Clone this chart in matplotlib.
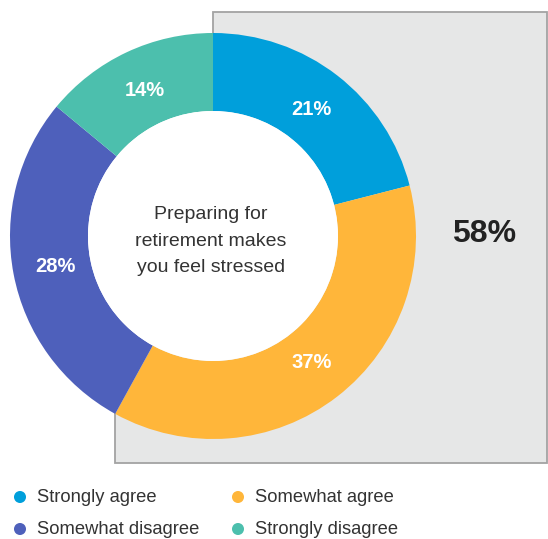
import numpy as np
import matplotlib.pyplot as plt
from matplotlib.patches import Polygon, Circle

plt.rcParams['font.family'] = ['Liberation Sans', 'DejaVu Sans']

# survey answers, share of respondents in percent
categories = ['Strongly agree', 'Somewhat agree', 'Somewhat disagree', 'Strongly disagree']
shares = [21, 37, 28, 14]
colors = ['#009FDB', '#FFB63A', '#4E60BB', '#4CBFAD']
question = 'Preparing for\nretirement makes\nyou feel stressed'

agree_total = shares[0] + shares[1]

W, H = 548, 539
fig = plt.figure(figsize=(W / 100, H / 100), dpi=100)
ax = fig.add_axes([0, 0, 1, 1])

# donut geometry in pixel units (y measured from bottom)
cx, cy = 213, H - 236
R = 203
r_in = 125

# grey panel behind the "agree" part of the ring
box_top, box_bottom, box_right = H - 12, H - 463, W - 1
end_ang = np.deg2rad(90 - agree_total / 100 * 360)
ex, ey = cx + R * np.cos(end_ang), cy + R * np.sin(end_ang)
panel = Polygon([(cx, cy), (cx, box_top), (box_right, box_top), (box_right, box_bottom),
                 (ex, box_bottom), (ex, ey)], closed=True, facecolor='#E6E7E7',
                edgecolor='none', zorder=1)
ax.add_patch(panel)
ax.plot([cx, cx, box_right, box_right, ex, ex],
        [cy + R, box_top, box_top, box_bottom, box_bottom, ey],
        color='#A3A3A3', lw=1.3, zorder=1.5, solid_joinstyle='miter')

wedges, _, pcts = ax.pie(shares, colors=colors, startangle=90, counterclock=False,
                         center=(cx, cy), radius=R, autopct='%.0f%%', pctdistance=0.79,
                         wedgeprops=dict(width=R - r_in, edgecolor='none', zorder=2),
                         textprops=dict(color='white', fontsize=14.5, fontweight='bold'))
for t in pcts:
    t.set_zorder(3)
ax.add_patch(Circle((cx, cy), r_in, facecolor='white', edgecolor='none', zorder=2))

ax.text(cx - 2, cy - 5, question, ha='center', va='center', fontsize=14,
        color='#333333', linespacing=1.75, zorder=3)
ax.text(484, H - 234, f'{agree_total}%', ha='center', va='center', fontsize=23,
        fontweight='bold', color='#222222', zorder=3)

# legend, two columns
leg_x = [20, 238]
leg_y = [H - 497, H - 529]
for i, (name, c) in enumerate(zip(categories, colors)):
    x, y = leg_x[i % 2], leg_y[i // 2]
    ax.scatter([x], [y], s=75, color=c, edgecolors='none', zorder=3)
    ax.text(x + 17, y, name, ha='left', va='center', fontsize=13.2, color='#333333')

ax.set_xlim(0, W)
ax.set_ylim(0, H)
ax.set_aspect('equal')
ax.axis('off')

fig.savefig('out.png', dpi=100)
